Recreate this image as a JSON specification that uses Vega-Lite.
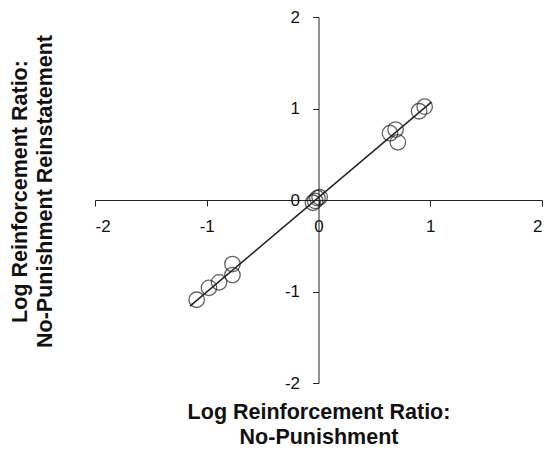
{
  "$schema": "https://vega.github.io/schema/vega-lite/v6.json",
  "autosize": "none",
  "width": 447,
  "height": 366,
  "padding": {"left": 95, "top": 17, "right": 7, "bottom": 74},
  "background": "white",
  "config": {
    "view": {"stroke": null},
    "font": "Liberation Sans",
    "axis": {
      "grid": false,
      "domainColor": "#222",
      "tickColor": "#222",
      "labelColor": "#111",
      "titleColor": "#111",
      "labelFont": "Liberation Sans",
      "titleFont": "Liberation Sans",
      "labelFontSize": 17,
      "titleFontSize": 21.5,
      "titleFontWeight": "bold",
      "tickSize": 6,
      "domainWidth": 1,
      "tickWidth": 1,
      "labelExpr": "'' + datum.value"
    }
  },
  "datasets": {
    "pts": [
      {"x": -1.09, "y": -1.09},
      {"x": -0.98, "y": -0.96},
      {"x": -0.89, "y": -0.9},
      {"x": -0.77, "y": -0.82},
      {"x": -0.77, "y": -0.7},
      {"x": -0.05, "y": -0.03},
      {"x": -0.03, "y": -0.01},
      {"x": -0.01, "y": 0.02},
      {"x": 0.01, "y": 0.03},
      {"x": 0.64, "y": 0.73},
      {"x": 0.69, "y": 0.77},
      {"x": 0.71, "y": 0.63},
      {"x": 0.9, "y": 0.97},
      {"x": 0.95, "y": 1.02}
    ],
    "fit": [
      {"x": -1.15, "y": -1.16},
      {"x": 1.01, "y": 1.07}
    ]
  },
  "layer": [
    {
      "data": {"name": "fit"},
      "mark": {"type": "line", "color": "#222", "strokeWidth": 1.5},
      "encoding": {
        "x": {
          "field": "x", "type": "quantitative",
          "scale": {"domain": [-2, 2], "nice": false, "zero": false},
          "axis": {
            "values": [-2, -1, 0, 1, 2],
            "offset": -183,
            "labelPadding": 12,
            "title": ["Log Reinforcement Ratio:", "No-Punishment"],
            "titleY": 212,
            "titleBaseline": "middle",
            "titleLineHeight": 25
          }
        },
        "y": {
          "field": "y", "type": "quantitative",
          "scale": {"domain": [-2, 2], "nice": false, "zero": false},
          "axis": {
            "values": [-2, -1, 0, 1, 2],
            "offset": -223.5,
            "labelPadding": 13,
            "title": ["Log Reinforcement Ratio:", "No-Punishment Reinstatement"],
            "titleX": -298,
            "titleY": 174,
            "titleAngle": -90,
            "titleBaseline": "middle",
            "titleLineHeight": 25
          }
        }
      }
    },
    {
      "data": {"name": "pts"},
      "mark": {"type": "point", "shape": "circle", "filled": false, "color": "#222", "size": 240, "strokeWidth": 1.3},
      "encoding": {
        "x": {"field": "x", "type": "quantitative"},
        "y": {"field": "y", "type": "quantitative"}
      }
    }
  ]
}
